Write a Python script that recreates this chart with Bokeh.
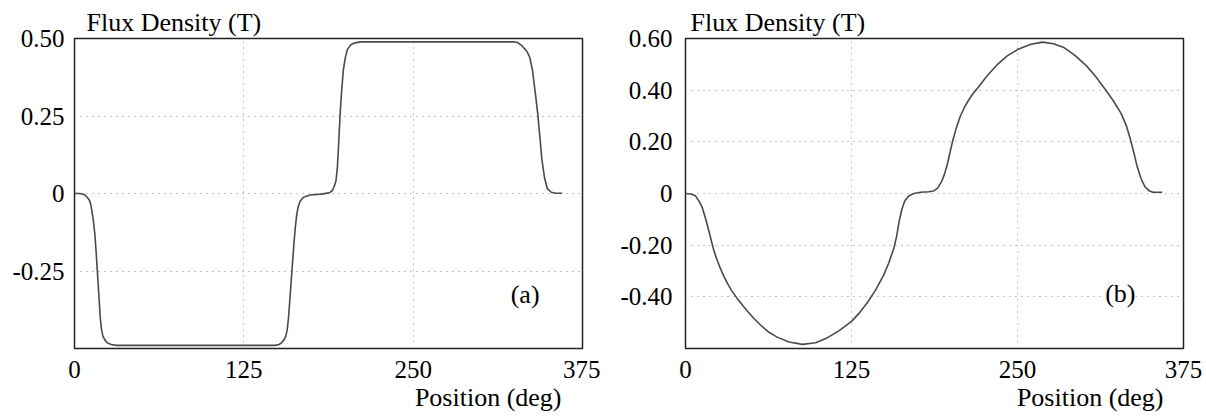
from bokeh.plotting import figure
from bokeh.models import Range1d, FixedTicker, Label, Title
from bokeh.layouts import row
from bokeh.embed import file_html
from bokeh.resources import INLINE

# ---- data ----
pos_a = [0, 4, 7, 9, 11, 12, 13, 14, 15, 16, 17, 18, 19, 20, 21, 22.5, 24, 27, 31,
         60, 100, 148, 151, 153, 154.5, 156, 157, 158, 159, 160, 161, 162, 163, 164,
         165, 166.5, 169, 174, 182, 188, 190, 191.5, 193, 194, 195, 196, 197, 198.5,
         200, 201.5, 204, 207, 211, 250, 300, 325, 327, 330, 332, 334, 336, 338, 340,
         342, 344, 345, 347, 349, 352, 355, 360]
flux_a = [0.0, 0.0, -0.003, -0.01, -0.022, -0.035, -0.06, -0.09, -0.13, -0.19, -0.26,
          -0.33, -0.40, -0.44, -0.46, -0.473, -0.481, -0.487, -0.49,
          -0.49, -0.49, -0.49, -0.487, -0.481, -0.473, -0.46, -0.44, -0.40, -0.34,
          -0.28, -0.22, -0.16, -0.11, -0.07, -0.045, -0.025, -0.012, -0.005, -0.002,
          0.002, 0.008, 0.02, 0.04, 0.08, 0.16, 0.25, 0.32, 0.40, 0.44, 0.465, 0.48,
          0.486, 0.489, 0.489, 0.489, 0.489, 0.487, 0.478, 0.468, 0.458, 0.44, 0.40,
          0.33, 0.255, 0.16, 0.11, 0.05, 0.016, 0.004, 0.001, 0.001]

pos_b = [0, 4, 7.5, 10, 12.6, 15, 17.6, 21.4, 24, 26.4, 29, 32, 35, 38.9, 43, 47,
         51.5, 56.5, 62, 69, 78, 88, 98, 107, 116, 125, 131, 137, 143, 149, 153, 157,
         159, 161, 163, 165, 168, 172, 177, 183, 187, 190, 193, 195, 197, 199, 201,
         204, 207, 210, 213, 216, 220, 227, 235, 242, 250, 260, 269, 277, 285, 293,
         302, 309, 315, 322, 328, 332, 335, 338, 340, 343, 346, 349, 352, 359]
flux_b = [0.0, -0.002, -0.009, -0.028, -0.054, -0.095, -0.145, -0.222, -0.260, -0.292,
          -0.322, -0.352, -0.378, -0.406, -0.433, -0.458, -0.484, -0.509, -0.534,
          -0.556, -0.575, -0.584, -0.578, -0.558, -0.53, -0.495, -0.462, -0.422,
          -0.375, -0.318, -0.27, -0.21, -0.165, -0.105, -0.06, -0.03, -0.01, 0.0,
          0.005, 0.007, 0.01, 0.022, 0.048, 0.075, 0.11, 0.155, 0.2, 0.255, 0.3,
          0.333, 0.36, 0.383, 0.408, 0.455, 0.5, 0.532, 0.557, 0.578, 0.586, 0.58,
          0.565, 0.536, 0.494, 0.452, 0.41, 0.36, 0.31, 0.262, 0.21, 0.15, 0.106,
          0.058, 0.026, 0.011, 0.005, 0.005]

x_ticks = [0, 125, 250, 375]
y_ticks_a = [-0.25, 0, 0.25, 0.5]
y_labels_a = ["-0.25", "0", "0.25", "0.50"]
y_ticks_b = [-0.4, -0.2, 0, 0.2, 0.4, 0.6]
y_labels_b = ["-0.40", "-0.20", "0", "0.20", "0.40", "0.60"]

FONT = "'Liberation Serif'"


def make_panel(xs, ys, yr, yticks, ylabels, borders, frame_w, y_standoff, tag, tag_xy,
               title_dx, xlabel_dx, tag_bg):
    left, right, top, bottom = borders
    p = figure(frame_width=frame_w, frame_height=310,
               x_range=Range1d(0, 375), y_range=Range1d(*yr),
               output_backend="svg", toolbar_location=None,
               min_border_left=left, min_border_right=right,
               min_border_top=top, min_border_bottom=bottom)
    p.line(xs, ys, line_color="#4a4a4a", line_width=1.6)

    p.outline_line_color = "#222222"
    p.outline_line_width = 1.5
    p.background_fill_color = "white"
    p.border_fill_color = "white"

    p.xaxis.ticker = FixedTicker(ticks=x_ticks)
    p.yaxis.ticker = FixedTicker(ticks=yticks)
    p.yaxis.major_label_overrides = {t: l for t, l in zip(yticks, ylabels)}
    p.xaxis.major_label_overrides = {t: str(t) for t in x_ticks}
    for ax in (p.xaxis, p.yaxis):
        ax.axis_line_color = None
        ax.major_tick_line_color = None
        ax.minor_tick_line_color = None
        ax.major_tick_out = 0
        ax.major_tick_in = 0
        ax.minor_tick_out = 0
        ax.major_label_text_font = FONT
        ax.major_label_text_font_size = "25px"
        ax.major_label_text_color = "black"
    p.xaxis.major_label_standoff = 12
    p.yaxis.major_label_standoff = y_standoff

    for g in (p.xgrid, p.ygrid):
        g.grid_line_color = "#8a8a8a"
        g.grid_line_dash = "1 5"
        g.grid_line_width = 1

    p.title = Title(text="Flux Density (T)", align="left", offset=title_dx,
                    standoff=3, text_font=FONT, text_font_size="26px",
                    text_font_style="normal", text_color="black")
    p.add_layout(Title(text="Position (deg)", align="right", offset=xlabel_dx,
                       standoff=0, text_font=FONT, text_font_size="26px",
                       text_font_style="normal", text_color="black"), "below")
    lab = Label(x=tag_xy[0], y=tag_xy[1], text=tag, text_font=FONT,
                text_font_size="26px", text_color="black",
                text_align="left", text_baseline="middle")
    if tag_bg:
        lab.background_fill_color = "white"
    p.add_layout(lab)
    return p


p1 = make_panel(pos_a, flux_a, (-0.5, 0.5), y_ticks_a, y_labels_a,
                (74, 18, 38, 66), 508, 10, "(a)", (322, -0.326), 12, 21, False)
p2 = make_panel(pos_b, flux_b, (-0.6, 0.6), y_ticks_b, y_labels_b,
                (85, 23, 38, 65), 498, 13, "(b)", (316, -0.386), 5, 20, True)

layout = row(p1, p2, spacing=0)
open("out.html", "w").write(file_html(layout, INLINE))
